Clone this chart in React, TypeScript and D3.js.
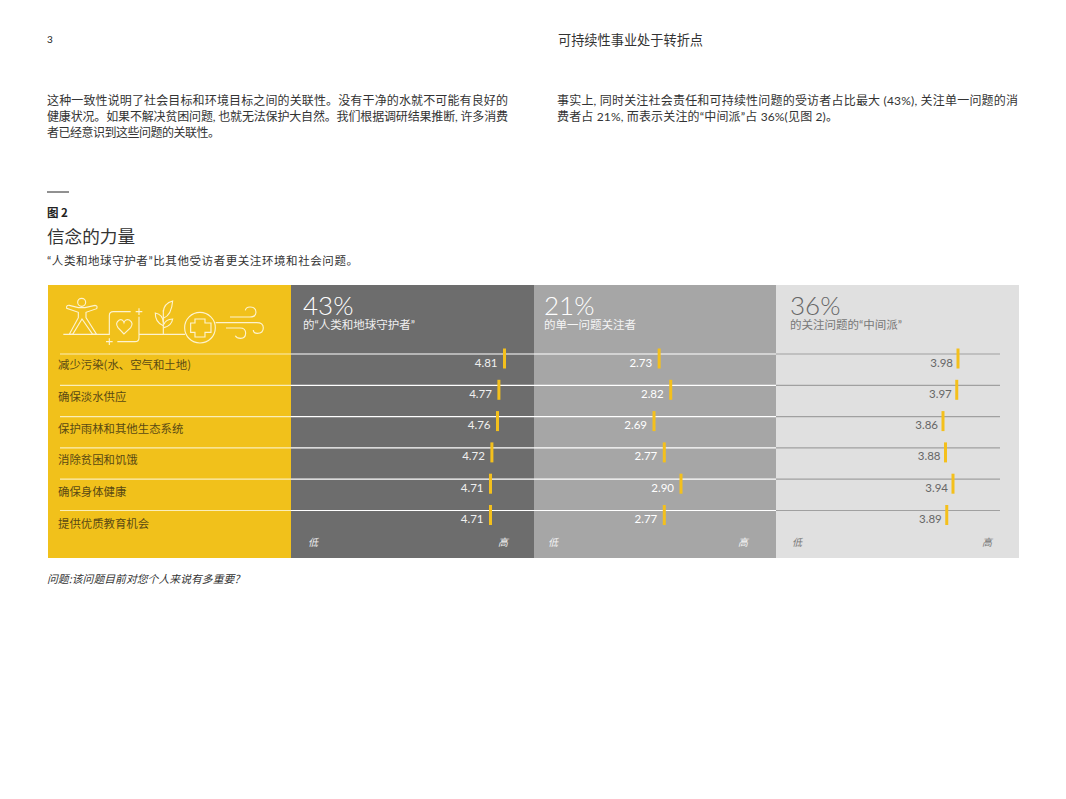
import * as d3 from "d3";
import React, { useEffect, useRef } from "react";

const issues = [
  "减少污染(水、空气和土地)",
  "确保淡水供应",
  "保护雨林和其他生态系统",
  "消除贫困和饥饿",
  "确保身体健康",
  "提供优质教育机会",
];
const guardians = [4.81, 4.77, 4.76, 4.72, 4.71, 4.71];
const singleIssue = [2.73, 2.82, 2.69, 2.77, 2.9, 2.77];
const middle = [3.98, 3.97, 3.86, 3.88, 3.94, 3.89];
const shares = ["43%", "21%", "36%"];
const groupLabels = ["的“人类和地球守护者”", "的单一问题关注者", "的关注问题的“中间派”"];
const scaleLabels = ["低", "高"];

const leftParagraph = [
  "这种一致性说明了社会目标和环境目标之间的关联性。没有干净的水就不可能有良好的",
  "健康状况。如果不解决贫困问题, 也就无法保护大自然。我们根据调研结果推断, 许多消费",
  "者已经意识到这些问题的关联性。",
];
const leftWidths = [461, 461, 173];
const rightParagraph = [
  "事实上, 同时关注社会责任和可持续性问题的受访者占比最大 (43%), 关注单一问题的消",
  "费者占 21%, 而表示关注的“中间派”占 36%(见图 2)。",
];
const rightWidths = [461, 281];

const CJK = "'Noto Sans CJK SC', sans-serif";
const NUM = "Lato, 'Open Sans', sans-serif";
// latin first so quotes and digits stay narrow next to the chinese
const MIXED = "Lato, 'Noto Sans CJK SC', sans-serif";

// icon outlines, drawn at 3x and scaled down
const iconPaths = [
  "M70,148H208V92Q208,80 220,80H272",
  "M297,95V158Q297,170 285,170H232",
  "M297,148H435",
  "M527,113H650Q670,113 670,128Q670,145 652,145Q640,145 640,135",
  "M570,96H630Q648,96 648,82Q648,66 630,66Q618,66 616,76",
  "M558,129H600Q617,129 617,144Q617,160 602,160Q590,160 586,152",
  "M88,148L115,98V82L80,70Q78,60 88,61L115,68H135L165,61Q174,62 170,71L138,82V98L170,148H158L126,102L98,148Z",
  "M252,147L234,128Q224,114 238,105Q248,101 252,113Q256,101 268,105Q282,114 272,128Z",
  "M370,148V75",
  "M370,100Q395,90 398,48Q372,55 370,80",
  "M370,122Q345,112 346,84Q368,88 370,112",
  "M372,128Q395,122 398,102Q376,104 372,118",
  "M465,102H495V114H513V142H495V156H465V142H452V114H465Z",
  "M198,170H218M208,160V180",
  "M287,80H307M297,70V90",
];

const App: React.FC = () => {
  const ref = useRef<SVGSVGElement>(null);

  useEffect(() => {
    const svg = d3.select(ref.current);
    svg.selectAll("*").remove();

    const text = (
      x: number,
      y: number,
      s: string,
      size: number,
      fill: string,
      font: string = CJK
    ) =>
      svg.append("text")
        .attr("x", x)
        .attr("y", y)
        .attr("fill", fill)
        .style("font-family", font)
        .style("font-size", `${size}px`)
        .text(s);

    // page header
    text(47, 43, "3", 10, "#222", NUM);
    text(558, 45, "可持续性事业处于转折点", 13.2, "#333");

    leftParagraph.forEach((s, i) =>
      text(47, 105 + i * 16, s, 12, "#333", MIXED)
        .attr("textLength", leftWidths[i])
        .attr("lengthAdjust", "spacing")
    );
    rightParagraph.forEach((s, i) =>
      text(557, 105 + i * 16, s, 12, "#333", MIXED)
        .attr("textLength", rightWidths[i])
        .attr("lengthAdjust", "spacing")
    );

    // figure title
    svg.append("line")
      .attr("x1", 47).attr("x2", 69)
      .attr("y1", 192).attr("y2", 192)
      .attr("stroke", "#222");
    text(47, 217, "图 2", 11.5, "#222").style("font-weight", "bold");
    text(47, 243, "信念的力量", 17.6, "#333");
    text(47, 265, "“人类和地球守护者”比其他受访者更关注环境和社会问题。", 11.5, "#333", MIXED)
      .attr("textLength", 311)
      .attr("lengthAdjust", "spacing");
    text(47, 583, "问题:该问题目前对您个人来说有多重要?", 10.85, "#333")
      .style("font-style", "italic");

    const top = 285;
    const bottom = 558;

    // row positions
    const rowY = d3.scalePoint<number>()
      .domain(d3.range(issues.length))
      .range([354, 510.5]);
    const labelY = d3.scalePoint<number>()
      .domain(d3.range(issues.length))
      .range([369, 528]);

    const panels = [
      { values: guardians, x0: 291, x1: 534, fill: "#6d6d6d", big: "#ffffff", sub: "#f0f0f0", num: "#f0f0f0", labelX: 303, lowX: 308, highX: 498, rule: "#ffffff", gap: 7, scale: d3.scaleLinear().domain([4.71, 4.81]).range([490.5, 504.5]) },
      { values: singleIssue, x0: 534, x1: 776, fill: "#a6a6a6", big: "#ffffff", sub: "#f5f5f5", num: "#ffffff", labelX: 544, lowX: 548, highX: 738, rule: "#ffffff", gap: 7, scale: d3.scaleLinear().domain([2.69, 2.9]).range([654, 681]) },
      { values: middle, x0: 776, x1: 1019, fill: "#e0e0e0", big: "#666666", sub: "#777777", num: "#666666", labelX: 790, lowX: 792, highX: 982, rule: "#a0a0a0", gap: 5, scale: d3.scaleLinear().domain([3.86, 3.98]).range([943, 958]) },
    ];

    // background blocks
    svg.append("rect")
      .attr("x", 48).attr("y", top)
      .attr("width", 243).attr("height", bottom - top)
      .attr("fill", "#f1c11b");

    panels.forEach((p) => {
      svg.append("rect")
        .attr("x", p.x0).attr("y", top)
        .attr("width", p.x1 - p.x0).attr("height", bottom - top)
        .attr("fill", p.fill);
    });

    // icon strip
    const icon = svg.append("g")
      .attr("transform", "translate(40,285) scale(0.3333)")
      .attr("fill", "none")
      .attr("stroke", "#fdf3cf")
      .attr("stroke-width", 3.4);
    icon.selectAll("path")
      .data(iconPaths)
      .enter()
      .append("path")
      .attr("d", (d) => d);
    icon.append("circle").attr("cx", 125).attr("cy", 52).attr("r", 12);
    icon.append("circle").attr("cx", 480).attr("cy", 128).attr("r", 46);

    // row rules
    issues.forEach((_, i) => {
      const y = rowY(i)!;
      svg.append("line")
        .attr("x1", 60).attr("x2", 291)
        .attr("y1", y).attr("y2", y)
        .attr("stroke", "#fbeeb8")
        .attr("stroke-width", 1.2);
      panels.forEach((p) => {
        svg.append("line")
          .attr("x1", p.x0).attr("x2", p.x0 === 776 ? 1000 : p.x1)
          .attr("y1", y).attr("y2", y)
          .attr("stroke", p.rule)
          .attr("stroke-width", 1.2);
      });
      text(58, labelY(i)!, issues[i], 11.4, "#5a4a14");
    });

    panels.forEach((p, k) => {
      text(p.labelX, 315, shares[k], 26, p.big, NUM).style("font-weight", 300);
      text(p.labelX, 328.5, groupLabels[k], 11.5, p.sub, MIXED);
      scaleLabels.forEach((s, j) => {
        text(j === 0 ? p.lowX : p.highX, 546, s, 10, p.sub).style("font-style", "italic");
      });

      p.values.forEach((v, i) => {
        const y = rowY(i)!;
        const x = p.scale(v);
        svg.append("rect")
          .attr("x", x - 1.5)
          .attr("y", y - 5.5)
          .attr("width", 3)
          .attr("height", 20)
          .attr("fill", "#f4c01c");
        text(x - p.gap, y + 12.5, v.toFixed(2), 11.5, p.num, NUM)
          .attr("text-anchor", "end");
      });
    });
  }, []);

  return (
    <svg
      ref={ref}
      width={1066}
      height={799}
      style={{ position: "absolute", left: 0, top: 0 }}
    ></svg>
  );
};

export default App;
